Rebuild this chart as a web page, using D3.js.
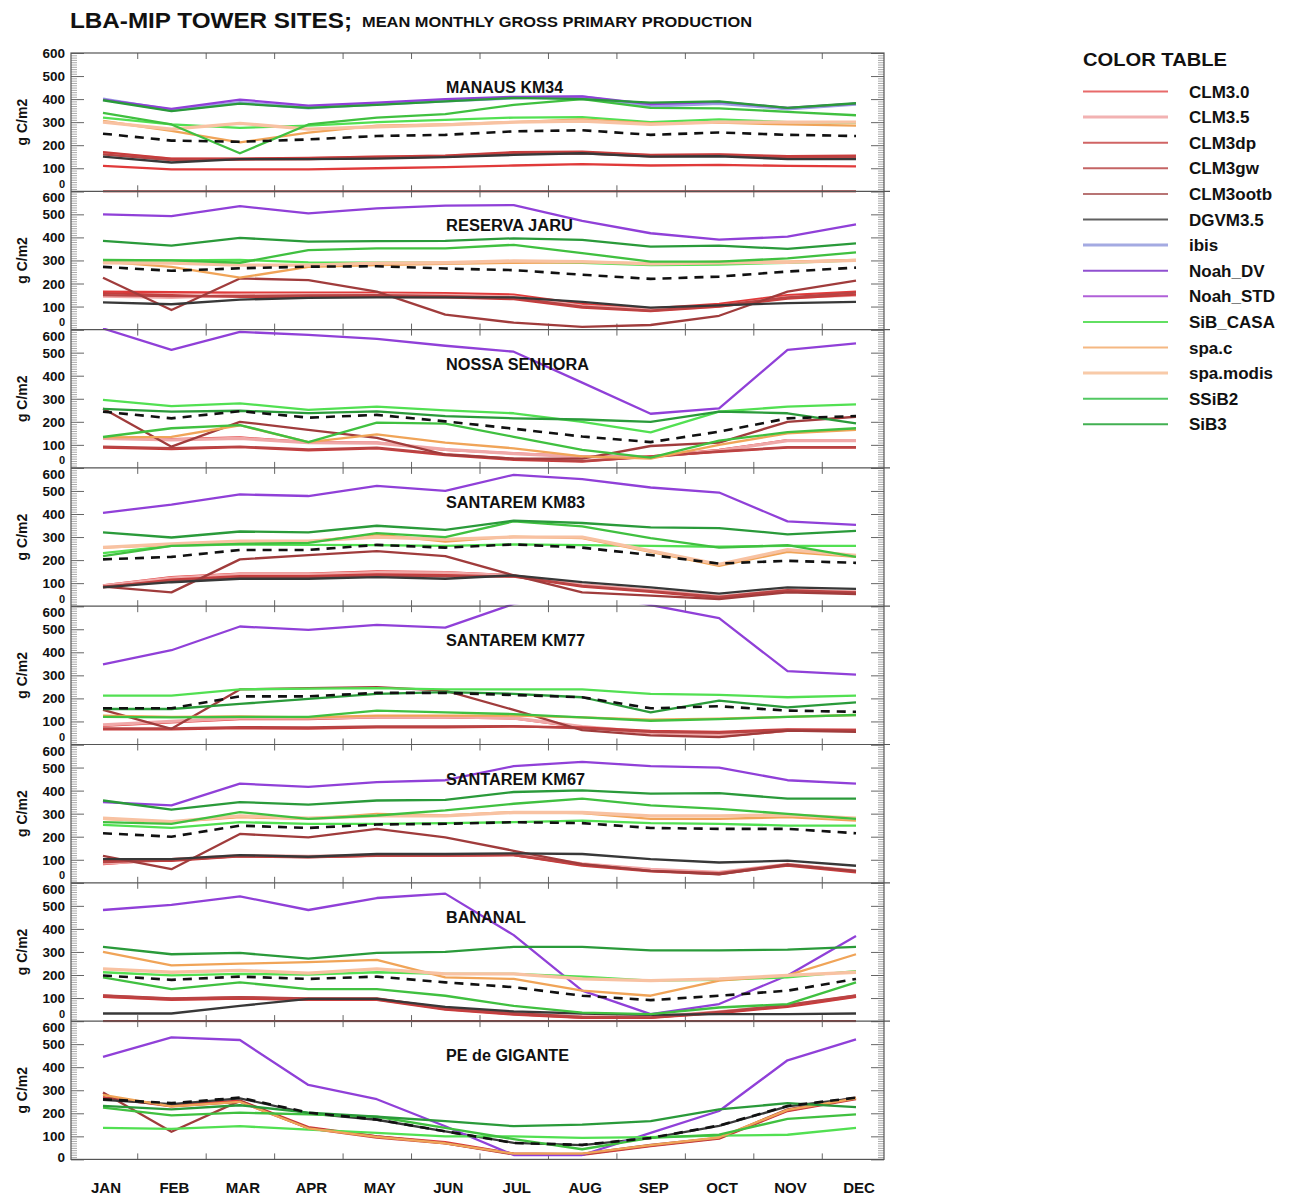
<!DOCTYPE html>
<html><head><meta charset="utf-8">
<script src="https://cdn.jsdelivr.net/npm/d3@7"></script>
<style>
body{margin:0;background:#fff}
svg{display:block}
text{font-family:"Liberation Sans",Arial,Helvetica,sans-serif;font-weight:bold;fill:#111}
</style>
</head><body>
<svg id="chart" width="1296" height="1197"></svg>
<script>
// ---------- data ----------
const months = ["JAN","FEB","MAR","APR","MAY","JUN","JUL","AUG","SEP","OCT","NOV","DEC"];
const models = ["CLM3.0","CLM3.5","CLM3dp","CLM3gw","CLM3ootb","DGVM3.5","ibis","Noah_DV","Noah_STD","SiB_CASA","spa.c","spa.modis","SSiB2","SiB3"];
const modelColors = ["#e03a3a","#f0a8a8","#c83c3c","#b84444","#a03c3c","#383838","#9ca2e2","#9040d8","#b050d8","#52e052","#f0a458","#f8c2a2","#40c040","#2a9a3a"];
const legendColors = ["#e86a6a","#f2b2b2","#d06464","#c46464","#b87474","#606060","#a4aae2","#9050d0","#b060d8","#62e062","#f5b882","#f8caa8","#52c862","#42b052"];
const modelWidths = [2,3,2,2,2,2,3,2,2,2,2,3,2,2];
const sites = ["MANAUS KM34","RESERVA JARU","NOSSA SENHORA","SANTAREM KM83","SANTAREM KM77","SANTAREM KM67","BANANAL","PE de GIGANTE"];
const siteLabelWidths = [117,127,143,139,139,139,80,123];
const yTicks = [0,100,200,300,400,500,600];

// rows follow `models`; last row = dashed (mean/observed) line
const MANAUS_KM34 = [
  [110,95,95,95,100,105,112,118,112,115,110,108],
  [165,140,140,142,148,152,165,168,155,158,150,150],
  [170,142,142,145,150,155,170,172,158,160,152,155],
  [160,135,138,140,145,150,162,165,152,155,145,148],
  [0,0,0,0,0,0,0,0,0,0,0,0],
  [150,125,140,140,142,148,158,165,150,152,140,140],
  [400,352,385,362,378,392,405,410,370,382,358,378],
  [398,358,398,372,385,400,410,412,378,388,362,380],
  null,
  [320,290,275,285,300,310,320,322,300,312,300,298],
  [305,262,212,255,285,290,300,312,295,298,290,285],
  [300,270,295,270,280,288,300,305,290,300,300,300],
  [340,290,165,290,320,335,375,400,362,360,345,330],
  [395,348,380,362,375,390,405,400,385,390,362,382],
  [250,220,215,225,240,245,260,265,245,255,245,240]
];
const RESERVA_JARU = [
  [165,162,160,160,160,158,152,112,92,112,150,165],
  [145,140,150,152,152,148,142,102,85,102,140,150],
  [158,150,142,142,142,140,132,95,80,100,135,152],
  [150,145,145,148,150,145,138,100,82,105,140,160],
  [225,85,222,215,165,65,30,12,20,60,165,212],
  [118,110,130,138,140,140,140,120,95,105,115,120],
  null,
  [500,492,536,504,526,538,540,472,418,390,403,457],
  null,
  [300,300,302,292,290,290,295,290,280,282,290,300],
  [295,272,225,272,280,285,290,292,288,295,295,302],
  [290,288,280,280,288,290,298,295,285,290,292,300],
  [302,300,290,345,352,352,368,332,295,295,309,335],
  [385,364,398,382,384,385,396,389,360,364,350,374],
  [272,255,266,273,275,265,258,238,220,230,252,269]
];
const NOSSA_SENHORA = [
  [130,125,132,112,110,78,63,50,50,78,120,120],
  [128,122,128,110,108,80,62,48,48,75,118,118],
  [88,82,90,76,85,56,35,27,50,70,88,88],
  [92,86,92,80,88,60,40,30,48,72,90,90],
  [258,92,200,165,130,58,40,40,95,110,200,222],
  null,
  null,
  [605,512,590,577,560,530,504,370,235,258,512,540],
  null,
  [295,268,280,252,266,250,237,200,154,244,266,276],
  [132,135,185,112,145,110,85,50,40,100,150,165],
  null,
  [134,172,186,112,196,192,135,78,45,118,155,172],
  [256,244,248,238,245,225,215,210,200,244,237,193],
  [244,215,246,218,230,202,170,136,112,157,215,225]
];
const SANTAREM_KM83 = [
  [90,126,141,141,151,148,134,90,68,38,68,60],
  [88,122,138,138,146,144,132,92,70,42,70,62],
  [82,115,130,130,138,135,128,85,62,36,65,58],
  [85,110,125,125,132,130,130,88,65,40,70,60],
  [85,60,203,222,239,217,134,60,46,31,60,53],
  [82,104,119,119,126,119,134,104,82,55,82,75],
  null,
  [405,441,485,478,522,500,570,551,515,493,368,353],
  null,
  [230,262,268,266,265,262,268,265,262,258,262,262],
  [254,266,280,280,312,280,302,295,236,175,236,214],
  [255,270,282,282,300,290,300,300,240,182,245,220],
  [217,262,270,275,317,300,368,346,295,254,265,214],
  [320,298,324,320,349,331,371,361,342,339,312,327],
  [203,214,244,244,266,254,268,254,222,185,197,188]
];
const SANTAREM_KM77 = [
  [81,96,110,110,118,118,113,74,49,34,59,59],
  [85,100,115,115,120,120,115,78,52,40,62,62],
  [66,66,71,69,74,74,78,74,59,55,66,63],
  [70,70,75,74,78,78,80,70,55,50,62,60],
  [150,68,239,245,249,234,150,62,40,32,60,55],
  null,
  null,
  [348,409,512,497,519,507,610,660,605,548,318,303],
  null,
  [212,212,239,242,245,239,239,239,220,215,205,212],
  [125,120,122,118,125,125,125,118,108,112,120,128],
  null,
  [120,118,120,120,147,139,132,118,103,110,120,128],
  [154,154,176,198,220,227,220,205,139,190,161,183],
  [157,157,209,209,224,224,215,205,157,166,147,142]
];
const SANTAREM_KM67 = [
  [81,103,117,113,117,117,120,78,55,40,78,49],
  [85,100,118,115,120,120,122,82,58,45,80,52],
  [95,95,115,110,118,118,120,75,50,38,75,45],
  [90,98,116,112,118,120,121,80,52,42,80,50],
  [117,59,212,197,234,197,139,81,52,37,78,52],
  [103,103,120,113,125,125,128,125,103,88,96,74],
  null,
  [350,336,430,416,437,445,506,525,506,500,445,430],
  null,
  [251,238,263,256,256,259,263,270,259,256,248,248],
  [277,263,285,277,299,292,307,302,277,277,285,270],
  [280,265,290,280,290,290,305,305,290,290,295,280],
  [263,256,307,277,292,314,343,365,336,321,299,277],
  [357,317,350,339,357,360,394,401,387,389,365,365],
  [215,200,248,238,253,256,263,259,238,234,234,215]
];
const BANANAL = [
  [110,96,103,96,96,52,30,15,15,37,66,110],
  [108,95,100,95,95,55,32,18,18,40,68,108],
  [105,92,98,92,92,50,28,14,14,35,62,105],
  [112,98,104,98,98,56,34,18,16,40,70,112],
  [0,0,0,0,0,0,0,0,0,0,0,0],
  [33,33,66,96,96,62,42,33,27,30,30,33],
  null,
  [482,504,541,482,534,553,373,132,30,74,198,369],
  null,
  [212,198,205,202,212,205,205,193,176,179,190,217],
  [300,242,249,256,266,190,183,132,110,176,198,290],
  [227,212,220,208,227,205,205,183,176,183,198,212],
  [190,139,168,139,139,110,66,37,30,59,74,168],
  [322,290,296,271,296,300,322,322,307,307,310,322],
  [198,179,193,183,193,168,147,110,91,110,132,183]
];
const PE_DE_GIGANTE = [
  [265,235,255,140,100,75,25,22,60,92,212,265],
  null,
  [270,230,250,135,95,70,22,20,58,90,210,262],
  null,
  [290,120,254,137,100,71,24,24,63,93,217,268],
  [258,240,265,200,172,122,72,62,92,145,230,266],
  null,
  [445,529,518,323,261,144,19,19,115,210,430,521],
  null,
  [137,132,144,129,115,100,100,93,97,103,107,137],
  [280,230,250,135,98,70,25,25,62,95,215,265],
  null,
  [225,191,203,195,185,137,88,44,93,107,176,195],
  [232,217,235,203,185,166,144,151,166,217,244,227],
  [261,244,268,203,173,122,71,63,93,147,232,268]
];
const siteData = [MANAUS_KM34,RESERVA_JARU,NOSSA_SENHORA,SANTAREM_KM83,SANTAREM_KM77,SANTAREM_KM67,BANANAL,PE_DE_GIGANTE];

// ---------- layout ----------
const svg = d3.select("#chart");
const boxL = 71, boxR = 884, top0 = 53, ph = 138.3;
const x = d3.scaleLinear().domain([0, 11]).range([103, 856]);
const boundaryTicks = d3.range(0.5, 11, 1);
const minorVals = d3.range(0, 601, 10).filter(v => v % 100 !== 0);
const nPanels = sites.length;

// title
svg.append("text").attr("x", 70).attr("y", 28).attr("font-size", 22)
  .attr("textLength", 282).attr("lengthAdjust", "spacingAndGlyphs").text("LBA-MIP TOWER SITES;");
svg.append("text").attr("x", 362).attr("y", 27).attr("font-size", 14)
  .attr("textLength", 390).attr("lengthAdjust", "spacingAndGlyphs").text("MEAN MONTHLY GROSS PRIMARY PRODUCTION");

const defs = svg.append("defs");

sites.forEach((site, p) => {
  const yTop = top0 + p * ph, yBot = top0 + (p + 1) * ph;
  const y = d3.scaleLinear().domain([0, 600]).range([yBot, yTop]);
  const g = svg.append("g");

  // minor ticks (left & right)
  g.append("g").attr("transform", `translate(${boxL},0)`)
    .call(d3.axisLeft(y).tickValues(minorVals).tickSize(-6).tickFormat(""))
    .call(s => { s.select(".domain").remove(); s.selectAll("line").attr("stroke", "#aaa"); });
  g.append("g").attr("transform", `translate(${boxR},0)`)
    .call(d3.axisRight(y).tickValues(minorVals).tickSize(-6).tickFormat(""))
    .call(s => { s.select(".domain").remove(); s.selectAll("line").attr("stroke", "#aaa"); });
  // major ticks
  g.append("g").attr("transform", `translate(${boxL},0)`)
    .call(d3.axisLeft(y).tickValues(yTicks).tickSize(-13).tickFormat(""))
    .call(s => { s.select(".domain").remove(); s.selectAll("line").attr("stroke", "#666"); });
  g.append("g").attr("transform", `translate(${boxR},0)`)
    .call(d3.axisRight(y).tickValues(yTicks).tickSize(-13).tickFormat(""))
    .call(s => { s.select(".domain").remove(); s.selectAll("line").attr("stroke", "#666"); });
  // x ticks top/bottom
  g.append("g").attr("transform", `translate(0,${yBot})`)
    .call(d3.axisBottom(x).tickValues(boundaryTicks).tickSize(-6).tickFormat(""))
    .call(s => { s.select(".domain").remove(); s.selectAll("line").attr("stroke", "#666"); });
  g.append("g").attr("transform", `translate(0,${yTop})`)
    .call(d3.axisTop(x).tickValues(boundaryTicks).tickSize(-6).tickFormat(""))
    .call(s => { s.select(".domain").remove(); s.selectAll("line").attr("stroke", "#666"); });

  // y tick labels (0 of upper panels raised, 600 of lower panels lowered so they don't collide)
  const lastPanel = p === nPanels - 1;
  g.selectAll("text.yl").data(yTicks).join("text").attr("class", "yl")
    .attr("x", 65)
    .attr("y", d => {
      if (d === 0) return lastPanel ? y(d) + 3 : y(d) - 3.5;
      if (d === 600 && p > 0) return y(d) + 11;
      return y(d) + 5;
    })
    .attr("text-anchor", "end")
    .attr("font-size", d => (d === 0 && !lastPanel) ? 11 : 13.5)
    .text(d => d);

  // y-axis title
  g.append("text").attr("transform", `translate(27,${(yTop + yBot) / 2}) rotate(-90)`)
    .attr("text-anchor", "middle").attr("font-size", 14).text("g C/m2");

  // clip
  const cid = "clip" + p;
  defs.append("clipPath").attr("id", cid).append("rect")
    .attr("x", boxL).attr("y", yTop - 1.5).attr("width", boxR - boxL).attr("height", yBot - yTop + 3);

  const line = d3.line().x((d, i) => x(i)).y(d => y(d));
  const lg = g.append("g").attr("clip-path", `url(#${cid})`);
  const rows = siteData[p];
  models.forEach((m, k) => {
    if (!rows[k]) return;
    lg.append("path").datum(rows[k]).attr("d", line).attr("fill", "none")
      .attr("stroke", modelColors[k]).attr("stroke-width", modelWidths[k] + 0.3)
      .attr("stroke-linejoin", "round");
  });
  lg.append("path").datum(rows[models.length]).attr("d", line).attr("fill", "none")
    .attr("stroke", "#111").attr("stroke-width", 2.6).attr("stroke-dasharray", "9,7");

  // site label
  g.append("text").attr("x", 446).attr("y", yTop + 40).attr("font-size", 16)
    .attr("textLength", siteLabelWidths[p]).attr("lengthAdjust", "spacingAndGlyphs").text(site);
});

// frame and panel separators
const yBottomAll = top0 + nPanels * ph;
svg.append("rect").attr("x", boxL).attr("y", top0).attr("width", boxR - boxL)
  .attr("height", yBottomAll - top0).attr("fill", "none").attr("stroke", "#555").attr("stroke-width", 1.2);
svg.selectAll("line.sep").data(d3.range(1, nPanels)).join("line").attr("class", "sep")
  .attr("x1", boxL).attr("x2", boxR + 6)
  .attr("y1", d => top0 + d * ph).attr("y2", d => top0 + d * ph)
  .attr("stroke", "#555").attr("stroke-width", 1.2);

// month labels
svg.selectAll("text.mon").data(months).join("text").attr("class", "mon")
  .attr("x", (d, i) => x(i) + 3).attr("y", 1193).attr("text-anchor", "middle")
  .attr("font-size", 15).text(d => d);

// legend
const leg = svg.append("g");
leg.append("text").attr("x", 1083).attr("y", 66).attr("font-size", 18)
  .attr("textLength", 144).attr("lengthAdjust", "spacingAndGlyphs").text("COLOR TABLE");
models.forEach((m, k) => {
  const yy = 91.5 + k * 25.6;
  leg.append("line").attr("x1", 1083).attr("x2", 1168).attr("y1", yy).attr("y2", yy)
    .attr("stroke", legendColors[k]).attr("stroke-width", modelWidths[k]);
  leg.append("text").attr("x", 1189).attr("y", yy + 6).attr("font-size", 17).text(m);
});
</script>
</body></html>
